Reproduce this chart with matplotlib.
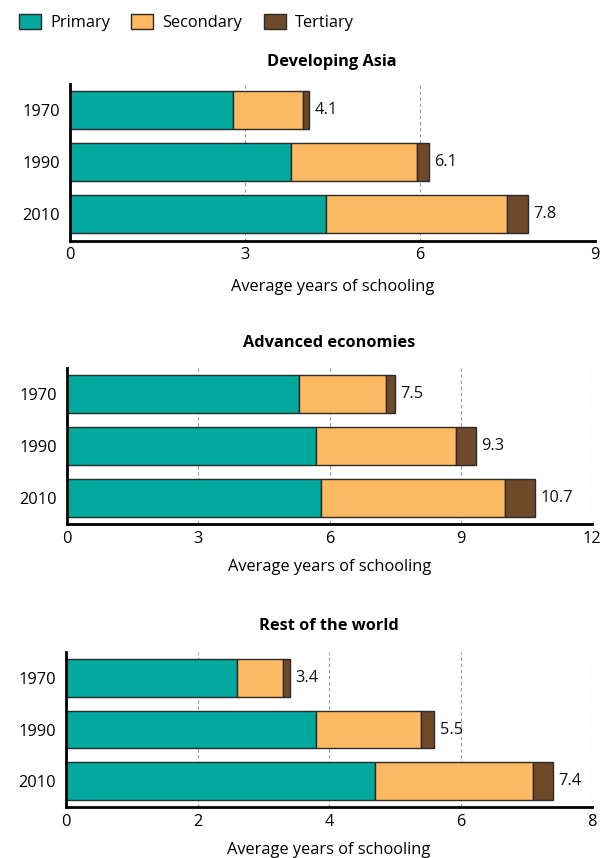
import matplotlib
matplotlib.use('Agg')
import matplotlib.pyplot as plt
from matplotlib.patches import Patch
import numpy as np

plt.rcParams['font.family'] = ['Open Sans', 'DejaVu Sans']

years = ['1970', '1990', '2010']
levels = ['Primary', 'Secondary', 'Tertiary']
colors = ['#00A89D', '#FDBA63', '#6F4A2A']

asia_primary = [2.8, 3.8, 4.4]
asia_secondary = [1.2, 2.15, 3.1]
asia_tertiary = [0.1, 0.2, 0.35]
asia_labels = ['4.1', '6.1', '7.8']

adv_primary = [5.3, 5.7, 5.8]
adv_secondary = [2.0, 3.2, 4.2]
adv_tertiary = [0.2, 0.45, 0.7]
adv_labels = ['7.5', '9.3', '10.7']

row_primary = [2.6, 3.8, 4.7]
row_secondary = [0.7, 1.6, 2.4]
row_tertiary = [0.1, 0.2, 0.3]
row_labels = ['3.4', '5.5', '7.4']

titles = ['Developing Asia', 'Advanced economies', 'Rest of the world']
xmaxes = [9, 12, 8]
xsteps = [3, 3, 2]
xlabel = 'Average years of schooling'

panels = [
    (asia_primary, asia_secondary, asia_tertiary, asia_labels),
    (adv_primary, adv_secondary, adv_tertiary, adv_labels),
    (row_primary, row_secondary, row_tertiary, row_labels),
]

W, H = 615, 858
fig = plt.figure(figsize=(W / 100, H / 100), dpi=100)

# axes boxes in pixels: left, right, top, bottom
boxes = [(69.5, 595, 84, 240.5), (67, 592, 368, 524), (66, 592, 652, 807)]
title_pads = [13, 15, 16]
label_pads = [11, 8.5, 8.5]

FS = 11.8
for (pr, se, te, labs), title, xmax, xstep, (l, r, t, b), tp, lp in zip(
        panels, titles, xmaxes, xsteps, boxes, title_pads, label_pads):
    ax = fig.add_axes([l / W, 1 - b / H, (r - l) / W, (b - t) / H])
    y = np.arange(len(years))
    pr = np.array(pr); se = np.array(se); te = np.array(te)
    h = 0.73
    kw = dict(height=h, edgecolor='#2a2a2a', linewidth=1.0, zorder=2)
    ax.barh(y, pr, color=colors[0], **kw)
    ax.barh(y, se, left=pr, color=colors[1], **kw)
    ax.barh(y, te, left=pr + se, color=colors[2], **kw)
    totals = pr + se + te
    for yi, tot, lab in zip(y, totals, labs):
        ax.annotate(lab, (tot, yi), xytext=(4, 0), textcoords='offset points',
                    ha='left', va='center', fontsize=FS, color='#111111')
    ax.set_xlim(0, xmax)
    ax.set_ylim(len(years) - 0.5, -0.5)
    ticks = np.arange(0, xmax + 0.001, xstep)
    ax.set_xticks(ticks)
    ax.set_xticklabels([f'{v:g}' for v in ticks], fontsize=FS)
    for v in ticks[1:]:
        ax.axvline(v, color='#9a9a9a', linewidth=0.8, linestyle=(0, (3, 2.5)), zorder=0)
    ax.set_yticks(y)
    ax.set_yticklabels(years, fontsize=FS)
    ax.tick_params(axis='y', direction='in', length=8, width=1.6, pad=7, color='black')
    ax.tick_params(axis='x', length=0, pad=5)
    for s in ['top', 'right']:
        ax.spines[s].set_visible(False)
    for s in ['left', 'bottom']:
        ax.spines[s].set_linewidth(2.0)
        ax.spines[s].set_zorder(3)
    ax.set_xlabel(xlabel, fontsize=FS, labelpad=lp)
    ax.set_title(title, fontsize=FS, fontweight='bold', pad=tp)

handles = [Patch(facecolor=c, edgecolor='#2a2a2a', linewidth=1.0) for c in colors]
fig.legend(handles, levels, loc='upper left', bbox_to_anchor=(0.012, 0.997), ncol=3,
           frameon=False, fontsize=FS, handlelength=1.35, handleheight=1.0,
           handletextpad=0.55, columnspacing=1.3, borderaxespad=0.3)

fig.savefig('out.png', dpi=100)
